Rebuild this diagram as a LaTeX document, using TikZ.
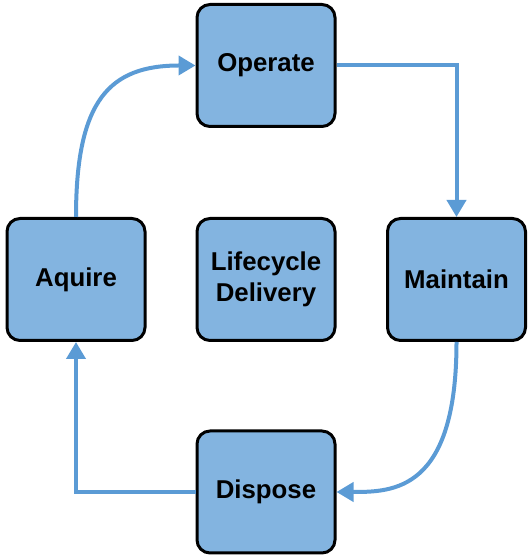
\documentclass[tikz,border=0pt]{standalone}
\usepackage{fontspec}
\setmainfont{Liberation Sans}
\usetikzlibrary{arrows.meta}
\definecolor{boxfill}{HTML}{83B4E0}
\definecolor{flowblue}{HTML}{5B9BD5}
\begin{document}
\begin{tikzpicture}[x=1pt,y=1pt,font=\fontsize{25.8}{31}\selectfont\bfseries,
  stage/.style={draw=black,line width=3pt,fill=boxfill,rounded corners=13pt,minimum width=138pt,minimum height=122pt,align=center,inner sep=0pt},
  flow/.style={draw=flowblue,line width=4pt,-{Triangle[length=17pt,width=19pt]}}]
\useasboundingbox (0,0) rectangle (528,556);

\node[stage] (operate) at (266,490.5) {Operate};
\node[stage] (aquire) at (76,276.5) {Aquire};
\node[stage] (lifecycle) at (266,276.5) {Lifecycle\\Delivery};
\node[stage] (maintain) at (456.5,276.5) {Maintain};
\node[stage] (dispose) at (266,64) {Dispose};

\draw[flow] (aquire.north) .. controls +(0,117) and +(-86,0) .. (operate.west);
\draw[flow] (operate.east) -| (maintain.north);
\draw[flow] (maintain.south) .. controls +(0,-149) and +(57,0) .. (dispose.east);
\draw[flow] (dispose.west) -| (aquire.south);

\end{tikzpicture}
\end{document}
